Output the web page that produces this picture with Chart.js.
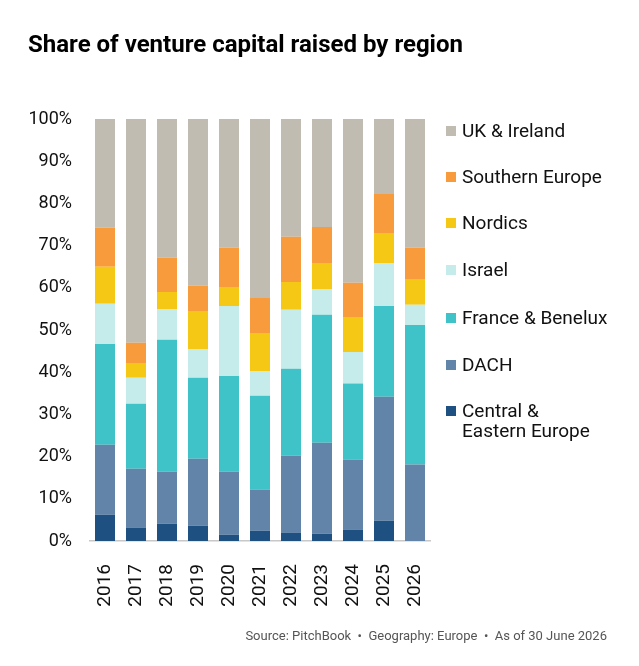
<!DOCTYPE html>
<html>
<head>
<meta charset="utf-8">
<script src="https://cdn.jsdelivr.net/npm/chart.js@4"></script>
<style>
  body { margin: 0; background: #fff; font-family: Roboto, "Noto Sans", sans-serif; }
  #contenedor { position: relative; width: 639px; height: 666px; }
  #titulo { position: absolute; left: 28px; top: 30px; font-size: 24px; font-weight: 700; color: #000; white-space: nowrap; }
  #fuente { position: absolute; right: 32px; top: 628px; font-size: 13px; color: #555; white-space: nowrap; }
  #leyenda { position: absolute; left: 446px; top: 0; font-size: 19px; color: #111; }
  .item { position: absolute; left: 0; white-space: nowrap; line-height: 20px; }
  .cuadro { position: absolute; left: 0; top: 5px; width: 10px; height: 10px; }
  .texto { position: absolute; left: 16px; top: 0; }
</style>
</head>
<body>
<div id="contenedor">
  <div id="titulo">Share of venture capital raised by region</div>
  <canvas id="grafico" width="639" height="666"></canvas>
  <div id="leyenda"></div>
  <div id="fuente">Source: PitchBook &nbsp;•&nbsp; Geography: Europe &nbsp;•&nbsp; As of 30 June 2026</div>
</div>
<script>
const anios = ['2016', '2017', '2018', '2019', '2020', '2021', '2022', '2023', '2024', '2025', '2026'];

// valores en % por region
const centralEste = [6.2, 3.2, 4.1, 3.6, 1.5, 2.4, 2.0, 1.7, 2.7, 4.8, 0];
const dach = [16.6, 13.9, 12.3, 15.9, 14.9, 9.8, 18.2, 21.6, 16.6, 29.4, 18.1];
const franciaBenelux = [23.9, 15.4, 31.3, 19.2, 22.7, 22.2, 20.6, 30.3, 18.0, 21.5, 33.1];
const israel = [9.5, 6.2, 7.3, 6.8, 16.6, 5.9, 14.0, 6.1, 7.5, 10.2, 4.8];
const nordicos = [8.8, 3.5, 4.0, 9.0, 4.5, 9.0, 6.6, 6.0, 8.3, 6.9, 6.1];
const surEuropa = [9.3, 4.8, 8.1, 6.0, 9.3, 8.3, 10.7, 8.7, 8.1, 9.4, 7.4];
const ukIrlanda = [25.7, 53.0, 32.9, 39.5, 30.5, 42.4, 27.9, 25.6, 38.8, 17.8, 30.5];

const ticksY = [0, 10, 20, 30, 40, 50, 60, 70, 80, 90, 100];

const series = [
    { label: ['Central &', 'Eastern Europe'], data: centralEste, color: '#1e5081' },
    { label: ['DACH'], data: dach, color: '#6284a8' },
    { label: ['France & Benelux'], data: franciaBenelux, color: '#3fc3c8' },
    { label: ['Israel'], data: israel, color: '#c5ecea' },
    { label: ['Nordics'], data: nordicos, color: '#f5c816' },
    { label: ['Southern Europe'], data: surEuropa, color: '#f89b3c' },
    { label: ['UK & Ireland'], data: ukIrlanda, color: '#c0bcb2' }
];

const ctx = document.getElementById('grafico').getContext('2d');
const chart = new Chart(ctx, {
    type: 'bar',
    data: {
        labels: anios,
        datasets: series.map(s => ({
            label: s.label.join(' '),
            data: s.data,
            backgroundColor: s.color,
            borderWidth: 0,
            barPercentage: 0.645,
            categoryPercentage: 1
        }))
    },
    options: {
        responsive: false,
        animation: false,
        layout: { padding: { left: 0, right: 208.5, top: 119, bottom: 0 } },
        plugins: { legend: { display: false }, tooltip: { enabled: false } },
        scales: {
            x: {
                stacked: true,
                grid: { display: false, drawTicks: false },
                border: { display: true, color: '#c8c8c8', width: 1.5 },
                ticks: { color: '#111', font: { family: 'Roboto', size: 19 }, minRotation: 90, maxRotation: 90, padding: 23 },
                afterFit: s => { s.height = 125; }
            },
            y: {
                stacked: true,
                min: 0,
                max: 100,
                grid: { display: false, drawTicks: false },
                border: { display: false },
                afterBuildTicks: s => { s.ticks = ticksY.map(v => ({ value: v })); },
                ticks: { color: '#111', font: { family: 'Roboto', size: 18 }, padding: 17.5, callback: v => v + '%' },
                afterFit: s => { s.width = 89.5; }
            }
        }
    }
});

// leyenda hecha a mano (orden inverso, UK arriba)
const leyenda = document.getElementById('leyenda');
const posiciones = [131, 177, 223, 270, 318, 365, 411];
series.slice().reverse().forEach((s, i) => {
    const item = document.createElement('div');
    item.className = 'item';
    item.style.top = (posiciones[i] - 10) + 'px';
    item.innerHTML = '<div class="cuadro" style="background:' + s.color + '"></div>' +
        '<div class="texto">' + s.label.map(t => t.replace('&', '&amp;')).join('<br>') + '</div>';
    leyenda.appendChild(item);
});
</script>
</body>
</html>
